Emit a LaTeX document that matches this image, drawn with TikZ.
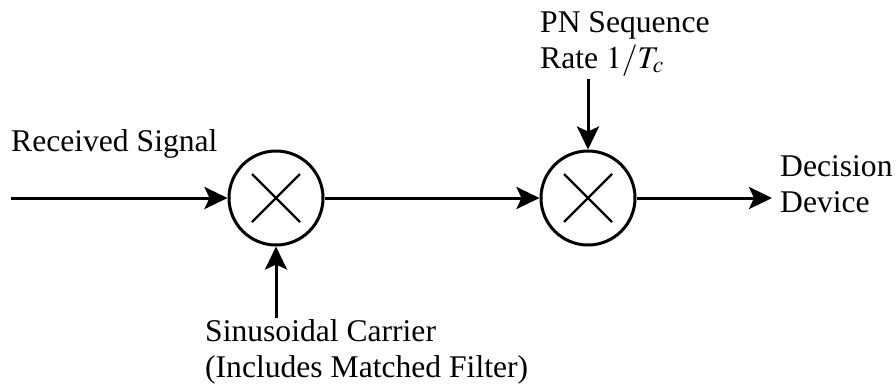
\documentclass[tikz,border=0pt]{standalone}
\usepackage{mathptmx}
\usepackage{fontspec}
\setmainfont{Liberation Serif}
\usetikzlibrary{arrows.meta}
\begin{document}
\begin{tikzpicture}[x=1pt,y=-1pt,
  arr/.style={line width=3pt,-{Stealth[length=23pt,width=22pt,inset=5pt]}},
  mult/.style={circle,draw,line width=3pt,minimum size=94pt,inner sep=0pt,
    path picture={\draw[line width=2.4pt]
      ([shift={(-24pt,-24pt)}]path picture bounding box.center) --
      ([shift={(24pt,24pt)}]path picture bounding box.center)
      ([shift={(-24pt,24pt)}]path picture bounding box.center) --
      ([shift={(24pt,-24pt)}]path picture bounding box.center);}},
  lbl/.style={inner sep=0pt,anchor=base west,align=left,
    font=\fontsize{31.6}{36}\selectfont}]
\useasboundingbox (0,0) rectangle (896,389);
\node[mult] (m1) at (276,198) {};
\node[mult] (m2) at (588,198) {};
\coordinate (in) at (11,198);
\coordinate (out) at (772,198);
\coordinate (car) at (276,318);
\coordinate (pn) at (588,79);
\draw[arr] (in) -- (m1.west);
\draw[arr] (m1.east) -- (m2.west);
\draw[arr] (m2.east) -- (out);
\draw[arr] (car) -- (m1.south);
\draw[arr] (pn) -- (m2.north);
\node[lbl] (rs) at (11,151) {Received Signal};
\node[lbl] (pnl) at (540,68) {PN Sequence\\Rate $1/T_c$};
\node[lbl] (dec) at (780,212.5) {Decision\\Device};
\node[lbl] (sin) at (205,377) {Sinusoidal Carrier\\(Includes Matched Filter)};
\end{tikzpicture}
\end{document}
